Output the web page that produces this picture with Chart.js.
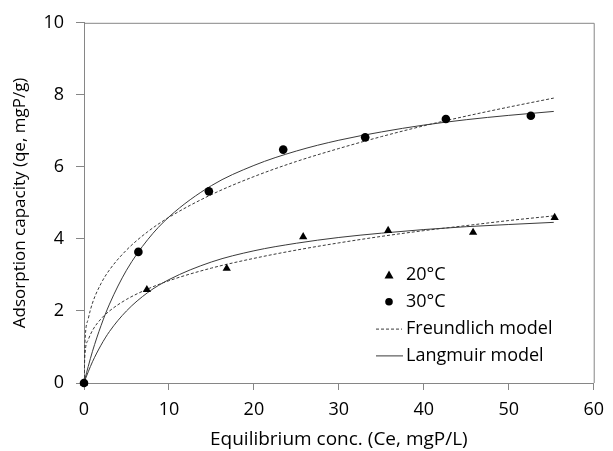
<!DOCTYPE html>
<html>
<head>
<meta charset="utf-8">
<script src="https://cdn.jsdelivr.net/npm/chart.js@4"></script>
<style>
  html, body { margin: 0; padding: 0; background: #fff; }
  #wrap { width: 613px; height: 451px; }
</style>
</head>
<body>
<div id="wrap"><canvas id="isoChart" width="613" height="451"></canvas></div>
<script>
// measured points
const ce20 = [0, 7.4, 16.8, 25.8, 35.8, 45.8, 55.4];
const qe20 = [0, 2.59, 3.18, 4.06, 4.23, 4.18, 4.59];
const ce30 = [0, 6.4, 14.7, 23.45, 33.1, 42.6, 52.6];
const qe30 = [0, 3.64, 5.32, 6.48, 6.82, 7.33, 7.42];

// model curves
const curveCe = [0, 0.1, 0.5, 1, 2, 3, 5, 7.5, 10, 15, 20, 25, 30, 35, 40, 45, 50, 55.3];
const freundlich30 = [0, 1.07, 1.78, 2.22, 2.76, 3.14, 3.69, 4.20, 4.60, 5.23, 5.73, 6.15, 6.51, 6.84, 7.14, 7.41, 7.66, 7.91];
const langmuir30 = [0, 0.10, 0.46, 0.88, 1.59, 2.19, 3.13, 3.98, 4.61, 5.48, 6.04, 6.44, 6.74, 6.97, 7.16, 7.31, 7.43, 7.54];
const freundlich20 = [0, 0.75, 1.20, 1.46, 1.78, 2.00, 2.32, 2.61, 2.84, 3.19, 3.46, 3.69, 3.89, 4.07, 4.23, 4.37, 4.51, 4.64];
const langmuir20 = [0, 0.07, 0.31, 0.59, 1.05, 1.43, 2.00, 2.51, 2.87, 3.36, 3.67, 3.88, 4.04, 4.16, 4.26, 4.34, 4.40, 4.46];

const xTicks = [0, 10, 20, 30, 40, 50, 60];
const yTicks = [0, 2, 4, 6, 8, 10];

const legendLabels = ["20°C", "30°C", "Freundlich model", "Langmuir model"];

function pairs(xs, ys) {
  return xs.map((x, i) => ({ x: x, y: ys[i] }));
}

const FONT = "'Open Sans', sans-serif";
const AXIS_GRAY = "#868686";
const LINE_COL = "#3a3a3a";
const TEXT_COL = "#000";

function curve(ys, dashed) {
  return {
    type: "line",
    data: pairs(curveCe, ys),
    borderColor: LINE_COL,
    borderWidth: 1,
    borderDash: dashed ? [3, 2] : [],
    pointRadius: 0,
    fill: false,
    cubicInterpolationMode: "monotone"
  };
}

// frame + legend inside the plot
const framePlugin = {
  id: "frame",
  afterDraw(chart) {
    const { ctx, chartArea: a } = chart;
    ctx.save();
    ctx.strokeStyle = AXIS_GRAY;
    ctx.lineWidth = 1;
    ctx.beginPath();
    ctx.moveTo(a.left, a.top + 0.5);
    ctx.lineTo(a.right + 0.5, a.top + 0.5);
    ctx.lineTo(a.right + 0.5, a.bottom);
    ctx.stroke();

    const mx = 389, tx = 406, y0 = 275, gap = 26.8;
    ctx.fillStyle = "#000";
    // triangle
    ctx.beginPath();
    ctx.moveTo(mx, y0 - 4.5);
    ctx.lineTo(mx + 4.5, y0 + 3.5);
    ctx.lineTo(mx - 4.5, y0 + 3.5);
    ctx.closePath();
    ctx.fill();
    // circle
    ctx.beginPath();
    ctx.arc(mx, y0 + gap, 3.8, 0, Math.PI * 2);
    ctx.fill();
    // dashed line
    ctx.strokeStyle = LINE_COL;
    ctx.setLineDash([3, 2]);
    ctx.beginPath();
    ctx.moveTo(376, y0 + gap * 2 + 0.5);
    ctx.lineTo(402, y0 + gap * 2 + 0.5);
    ctx.stroke();
    ctx.setLineDash([]);
    ctx.beginPath();
    ctx.moveTo(376, y0 + gap * 3 + 0.5);
    ctx.lineTo(403, y0 + gap * 3 + 0.5);
    ctx.stroke();

    ctx.font = "18px " + FONT;
    ctx.textBaseline = "middle";
    ctx.textAlign = "left";
    ctx.fillStyle = TEXT_COL;
    legendLabels.forEach((t, i) => ctx.fillText(t, tx, y0 + gap * i));
    ctx.restore();
  }
};

new Chart(document.getElementById("isoChart").getContext("2d"), {
  data: {
    datasets: [
      {
        type: "scatter",
        data: pairs(ce30, qe30),
        pointStyle: "circle",
        pointRadius: 4.3,
        backgroundColor: "#000",
        borderColor: "#000",
        borderWidth: 0,
        clip: false
      },
      {
        type: "scatter",
        data: pairs(ce20, qe20),
        pointStyle: "triangle",
        pointRadius: 4.8,
        backgroundColor: "#000",
        borderColor: "#000",
        borderWidth: 0,
        clip: false
      },
      curve(freundlich30, true),
      curve(langmuir30, false),
      curve(freundlich20, true),
      curve(langmuir20, false)
    ]
  },
  options: {
    responsive: false,
    animation: false,
    layout: { padding: { top: 18, right: 13, left: 0, bottom: 0 } },
    plugins: {
      legend: { display: false },
      tooltip: { enabled: false }
    },
    scales: {
      x: {
        type: "linear",
        min: 0,
        max: 60,
        afterFit(s) { s.height = 68; },
        afterBuildTicks(s) { s.ticks = xTicks.map(v => ({ value: v })); },
        grid: { drawOnChartArea: false, tickLength: 7, tickColor: AXIS_GRAY },
        border: { color: AXIS_GRAY, width: 1 },
        ticks: { color: TEXT_COL, font: { family: FONT, size: 18 }, padding: 9, maxRotation: 0 },
        title: {
          display: true,
          text: "Equilibrium conc. (Ce, mgP/L)",
          color: TEXT_COL,
          font: { family: FONT, size: 19 },
          padding: { top: 0, bottom: 0 }
        }
      },
      y: {
        type: "linear",
        min: 0,
        max: 10,
        afterFit(s) { s.width = 84; },
        afterBuildTicks(s) { s.ticks = yTicks.map(v => ({ value: v })); },
        grid: { drawOnChartArea: false, tickLength: 8, tickColor: AXIS_GRAY },
        border: { color: AXIS_GRAY, width: 1 },
        ticks: { color: TEXT_COL, font: { family: FONT, size: 18 }, padding: 12 },
        title: {
          display: true,
          text: "Adsorption capacity (qe, mgP/g)",
          color: TEXT_COL,
          font: { family: FONT, size: 17 },
          padding: { top: 10, bottom: 0 }
        }
      }
    }
  },
  plugins: [framePlugin]
});
</script>
</body>
</html>
